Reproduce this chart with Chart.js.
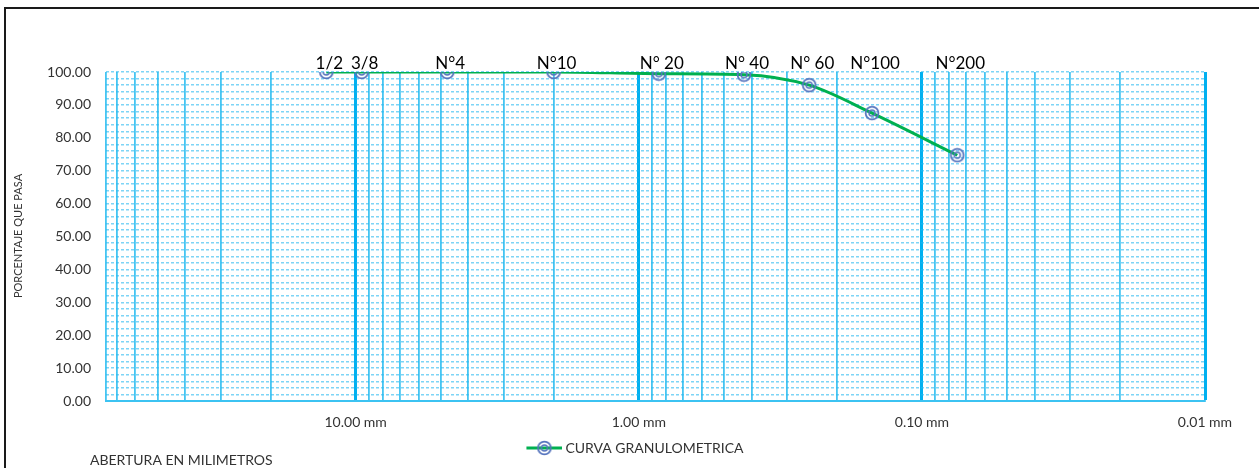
<!DOCTYPE html>
<html>
<head>
<meta charset="utf-8">
<script src="https://cdn.jsdelivr.net/npm/chart.js@4"></script>
<style>
  html, body { margin: 0; padding: 0; background: #fff; }
</style>
</head>
<body>
<canvas id="chart" width="1259" height="468"></canvas>
<script>
// sieve data
const sieveNames = ["1/2", "3/8", "N°4", "N°10", "N° 20", "N° 40", "N° 60", "N°100", "N°200"];
const openingsMm = [12.7, 9.525, 4.75, 2.0, 0.85, 0.425, 0.25, 0.15, 0.075];
const percentPassing = [100, 100, 100, 100, 99.5, 99.2, 96.0, 87.5, 74.7];

// axes
const majorTicksMm = [10, 1, 0.1, 0.01];
const gridMultipliers = [2, 3, 4, 5, 6, 7, 8, 9];
const xMin = 0.01;
const xMax = 76.2;
const yLabelStep = 10;
const yGridStep = 2;

const FONT = "Lato";
const TEXT = "#333333";

// log grid lines: each decade plus 2..9 inside it
const xGrid = [xMax];
majorTicksMm.forEach(d => {
  xGrid.push(d);
  gridMultipliers.forEach(m => {
    const v = +(d * m).toPrecision(6);
    if (v < xMax) xGrid.push(v);
  });
});
const isMajor = v => majorTicksMm.some(d => Math.abs(v - d) < d * 1e-6);

function drawRings(g, x, y) {
  g.strokeStyle = "#5775BE";
  g.lineWidth = 1.8;
  g.beginPath(); g.arc(x, y, 6.4, 0, Math.PI * 2); g.stroke();
  g.lineWidth = 1.5;
  g.beginPath(); g.arc(x, y, 3, 0, Math.PI * 2); g.stroke();
}

const marker = document.createElement("canvas");
marker.width = 16; marker.height = 16;
drawRings(marker.getContext("2d"), 8, 8);

const legendMark = document.createElement("canvas");
legendMark.width = 51; legendMark.height = 16;
(function () {
  const g = legendMark.getContext("2d");
  g.strokeStyle = "#00B050";
  g.lineWidth = 3;
  g.beginPath(); g.moveTo(15, 8); g.lineTo(51, 8); g.stroke();
  drawRings(g, 33, 8);
})();

const frame = {
  id: "frame",
  beforeDraw(chart) {
    const c = chart.ctx;
    c.save();
    c.fillStyle = "#fff";
    c.fillRect(0, 0, chart.width, chart.height);
    c.strokeStyle = "#1a1a1a";
    c.lineWidth = 2;
    c.beginPath();
    c.moveTo(5, chart.height);
    c.lineTo(5, 8);
    c.lineTo(chart.width, 8);
    c.stroke();
    c.restore();
  },
  afterDraw(chart) {
    const c = chart.ctx;
    c.save();
    c.fillStyle = TEXT;
    c.font = "11px " + FONT;
    c.textAlign = "center";
    c.textBaseline = "middle";
    c.translate(18, 236);
    c.rotate(-Math.PI / 2);
    c.fillText("PORCENTAJE QUE PASA", 0, 0);
    c.restore();
    c.save();
    c.fillStyle = TEXT;
    c.font = "14px " + FONT;
    c.textBaseline = "alphabetic";
    c.fillText("ABERTURA EN MILIMETROS", 90, 465);
    c.restore();
  }
};

const pointLabels = {
  id: "pointLabels",
  afterDatasetsDraw(chart) {
    const meta = chart.getDatasetMeta(0);
    const c = chart.ctx;
    c.save();
    c.font = "17px " + FONT;
    c.fillStyle = "#000";
    c.textAlign = "center";
    c.textBaseline = "alphabetic";
    meta.data.forEach((pt, i) => {
      c.fillText(sieveNames[i], pt.x + 3, chart.chartArea.top - 3);
    });
    c.restore();
  }
};

new Chart(document.getElementById("chart"), {
  type: "line",
  data: {
    datasets: [{
      label: "CURVA GRANULOMETRICA",
      data: openingsMm.map((x, i) => ({ x, y: percentPassing[i] })),
      borderColor: "#00B050",
      backgroundColor: "#00B050",
      borderWidth: 3,
      pointStyle: marker,
      pointRadius: 6,
      cubicInterpolationMode: "monotone",
      fill: false,
    }],
  },
  options: {
    responsive: false,
    animation: false,
    layout: { padding: { left: 0, right: 0, top: 72, bottom: 3 } },
    plugins: {
      tooltip: { enabled: false },
      legend: {
        position: "bottom",
        labels: {
          usePointStyle: true,
          pointStyle: legendMark,
          pointStyleWidth: 43,
          padding: 10,
          color: TEXT,
          font: { family: FONT, size: 14 },
        },
      },
    },
    scales: {
      x: {
        type: "logarithmic",
        reverse: true,
        min: xMin,
        max: xMax,
        afterBuildTicks: s => { s.ticks = xGrid.map(v => ({ value: v })); },
        afterFit: s => { s.height = 30; },
        ticks: {
          autoSkip: false,
          maxRotation: 0,
          padding: 13,
          color: TEXT,
          font: { family: FONT, size: 14 },
          callback: v => (isMajor(v) ? v.toFixed(2) + " mm" : ""),
        },
        grid: {
          drawTicks: false,
          color: ctx => (ctx.tick && isMajor(ctx.tick.value) ? "#00B0F0" : "#45C5F2"),
          lineWidth: ctx => (ctx.tick && isMajor(ctx.tick.value) ? 3 : 1.8),
        },
        border: { color: "#3CC3F2", width: 2 },
      },
      y: {
        min: 0,
        max: 100,
        afterBuildTicks: s => {
          const t = [];
          for (let v = 0; v <= 100; v += yGridStep) t.push({ value: v });
          s.ticks = t;
        },
        afterFit: s => { s.width = 106; },
        ticks: {
          autoSkip: false,
          padding: 15,
          color: TEXT,
          font: { family: FONT, size: 14 },
          callback: v => (v % yLabelStep === 0 ? v.toFixed(2) : ""),
        },
        grid: { drawTicks: false, color: "rgba(40,185,240,0.6)", lineWidth: 1.4 },
        border: { display: false, dash: [3, 2] },
      },
      y2: {
        position: "right",
        min: 0,
        max: 100,
        grid: { display: false },
        ticks: { display: false },
        border: { display: false },
        afterFit: s => { s.width = 54; },
      },
    },
  },
  plugins: [frame, pointLabels],
});
</script>
</body>
</html>
